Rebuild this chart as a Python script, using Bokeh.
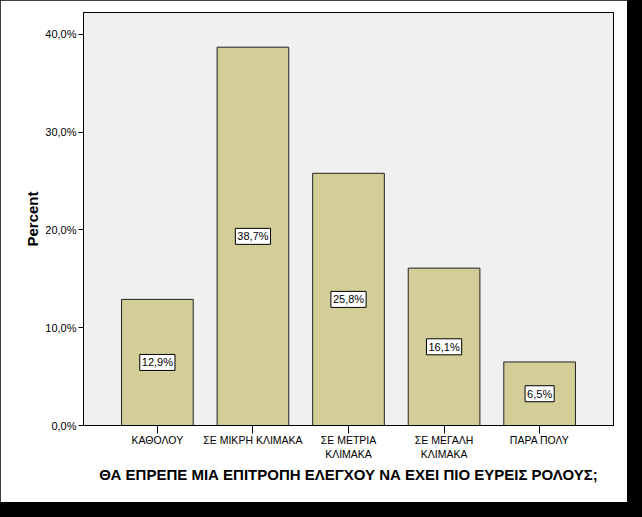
from bokeh.plotting import figure
from bokeh.models import ColumnDataSource, FixedTicker, Range1d
from bokeh.embed import file_html
from bokeh.resources import INLINE
from bokeh.core.properties import value

categories = ["ΚΑΘΟΛΟΥ", "ΣΕ ΜΙΚΡΗ ΚΛΙΜΑΚΑ", "ΣΕ ΜΕΤΡΙΑ\nΚΛΙΜΑΚΑ", "ΣΕ ΜΕΓΑΛΗ\nΚΛΙΜΑΚΑ", "ΠΑΡΑ ΠΟΛΥ"]
percents = [12.9, 38.7, 25.8, 16.1, 6.5]
value_labels = ["12,9%", "38,7%", "25,8%", "16,1%", "6,5%"]
y_ticks = [0, 10, 20, 30, 40]
y_tick_labels = ["0,0%", "10,0%", "20,0%", "30,0%", "40,0%"]
x_title = "ΘΑ ΕΠΡΕΠΕ ΜΙΑ ΕΠΙΤΡΟΠΗ ΕΛΕΓΧΟΥ ΝΑ ΕΧΕΙ ΠΙΟ ΕΥΡΕΙΣ ΡΟΛΟΥΣ;"
y_title = "Percent"

FONT = "Liberation Sans"
xs = list(range(1, len(categories) + 1))
src = ColumnDataSource(dict(
    x=xs,
    pct=percents,
    mid=[v / 2 for v in percents],
    lbl=value_labels,
))

p = figure(width=627, height=502, output_backend="svg", toolbar_location=None,
           x_range=Range1d(0.227, len(categories) + 0.773), y_range=Range1d(0, 42.25),
           min_border_left=83, min_border_right=14, min_border_top=12, min_border_bottom=77)
p.background_fill_color = "#F0F0F0"
p.border_fill_color = "white"
p.outline_line_color = "black"
p.outline_line_width = 1
p.xgrid.visible = False
p.ygrid.visible = False

p.vbar(x="x", top="pct", bottom=0, width=0.75, source=src,
       fill_color="#D3CE98", line_color="#222222", line_width=1)

p.text(x="x", y="mid", text="lbl", source=src, text_align="center", text_baseline="middle",
       text_font=value(FONT), text_font_size="11px", text_color="black",
       background_fill_color="white", border_line_color="black", padding=2)

ya = p.yaxis[0]
ya.ticker = FixedTicker(ticks=y_ticks)
ya.major_label_overrides = dict(zip(y_ticks, y_tick_labels))
ya.minor_tick_line_color = None
ya.major_tick_in = 0
ya.major_tick_out = 5
ya.major_label_standoff = 2
ya.axis_line_color = "black"
ya.major_tick_line_color = "black"
ya.major_label_text_font = FONT
ya.major_label_text_font_size = "11px"
ya.major_label_text_color = "black"
ya.axis_label = y_title
ya.axis_label_text_font = FONT
ya.axis_label_text_font_style = "bold"
ya.axis_label_text_font_size = "15px"
ya.axis_label_text_color = "black"
ya.axis_label_standoff = 1

xa = p.xaxis[0]
xa.ticker = FixedTicker(ticks=xs)
xa.major_label_overrides = dict(zip(xs, categories))
xa.minor_tick_line_color = None
xa.major_tick_in = 0
xa.major_tick_out = 8
xa.major_label_standoff = 0
xa.axis_line_color = "black"
xa.major_tick_line_color = "black"
xa.major_label_text_font = FONT
xa.major_label_text_font_size = "10.5px"
xa.major_label_text_color = "black"
xa.axis_label = x_title
xa.axis_label_text_font = FONT
xa.axis_label_text_font_style = "bold"
xa.axis_label_text_font_size = "15px"
xa.axis_label_text_color = "black"
xa.axis_label_standoff = 3

html = file_html(p, INLINE)
css = "<style>html,body{margin:0;padding:0;background:#000000;}</style>"
html = html.replace("</head>", css + "</head>", 1)
open("out.html", "w").write(html)
